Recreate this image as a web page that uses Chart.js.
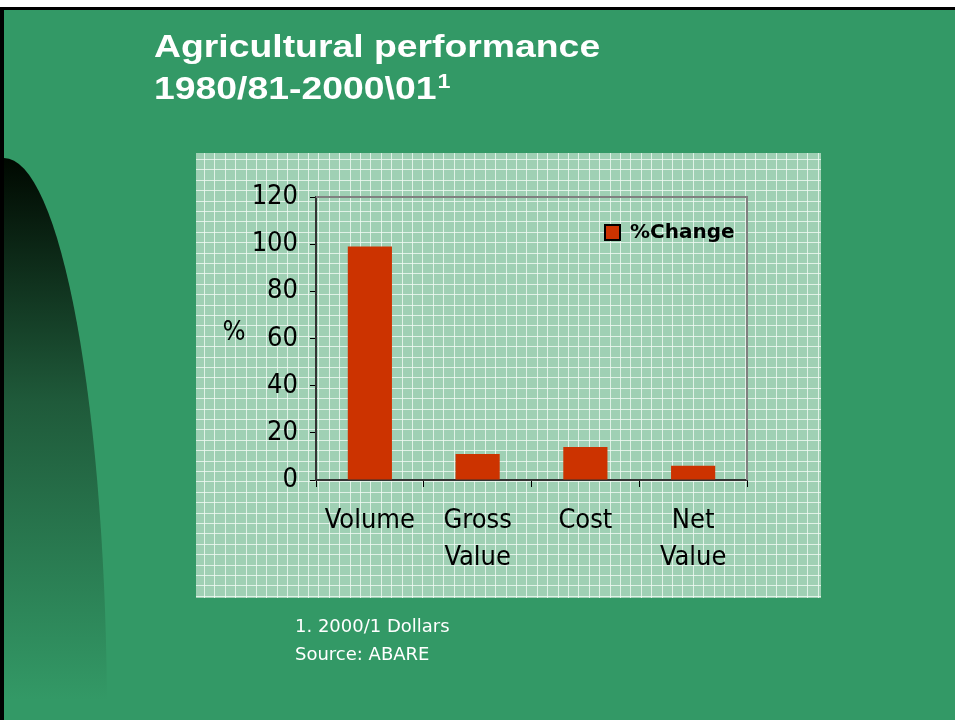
<!DOCTYPE html>
<html lang="en">
<head>
  <meta charset="UTF-8">
  <title>Agricultural performance</title>
  <script src="https://cdn.jsdelivr.net/npm/chart.js"></script>
  <style>
    html, body { margin: 0; padding: 0; background: #ffffff; }
    #wrap { width: 955px; height: 720px; position: relative; }
  </style>
</head>
<body>
  <div id="wrap">
    <canvas id="myChart" width="955" height="720"></canvas>
  </div>

  <script>
    // Chart data
    const categories = [['Volume'], ['Gross', 'Value'], ['Cost'], ['Net', 'Value']];
    const seriesLabel = '%Change';
    const changeValues = [99, 11, 14, 6];
    const yTicks = [0, 20, 40, 60, 80, 100, 120];

    const titleLines = ['Agricultural performance', '1980/81-2000\\01'];
    const footnotes = ['1. 2000/1 Dollars', 'Source: ABARE'];

    const slideGreen = '#339966';
    const barColor = '#cc3300';
    const tickFont = '"DejaVu Sans Condensed", "DejaVu Sans", sans-serif';

    // panel behind the chart (light green with white grid)
    const panel = { x: 196, y: 153, w: 625, h: 445 };

    const slidePlugin = {
      id: 'slide',
      beforeDraw(chart) {
        const c = chart.ctx;
        c.save();
        // slide background
        c.fillStyle = '#ffffff';
        c.fillRect(0, 0, 955, 720);
        c.fillStyle = slideGreen;
        c.fillRect(0, 8, 955, 712);
        c.fillStyle = '#000000';
        c.fillRect(0, 7, 955, 3);
        c.fillRect(0, 7, 4, 713);

        // dark curved shape on the left
        const grad = c.createLinearGradient(0, 158, 0, 700);
        grad.addColorStop(0, '#000800');
        grad.addColorStop(0.45, '#1f5a3a');
        grad.addColorStop(1, '#339966');
        c.fillStyle = grad;
        c.beginPath();
        c.moveTo(4, 720);
        c.ellipse(4, 720, 103, 562, 0, -Math.PI / 2, 0);
        c.lineTo(4, 720);
        c.closePath();
        c.fill();

        // title (slide text is a little stretched sideways)
        c.fillStyle = '#ffffff';
        c.textBaseline = 'alphabetic';
        c.textAlign = 'left';
        c.save();
        c.translate(154, 0);
        c.scale(1.167, 1);
        c.font = 'bold 32px "Liberation Sans", Arial, sans-serif';
        c.fillText(titleLines[0], 0, 57);
        c.fillText(titleLines[1], 0, 99);
        const w2 = c.measureText(titleLines[1]).width;
        c.font = 'bold 20px "Liberation Sans", Arial, sans-serif';
        c.fillText('1', w2 + 1, 88);
        c.restore();

        // footnotes
        c.font = '18px "DejaVu Sans", sans-serif';
        c.fillText(footnotes[0], 295, 632);
        c.fillText(footnotes[1], 295, 660);

        // chart panel
        c.fillStyle = '#9fd0b4';
        c.fillRect(panel.x, panel.y, panel.w, panel.h);
        c.strokeStyle = 'rgba(240,250,244,0.8)';
        c.lineWidth = 1;
        c.beginPath();
        for (let x = panel.x + 8; x < panel.x + panel.w; x += 10.4) {
          const px = Math.round(x) + 0.5;
          c.moveTo(px, panel.y);
          c.lineTo(px, panel.y + panel.h);
        }
        for (let y = panel.y + 6; y < panel.y + panel.h; y += 10.4) {
          const py = Math.round(y) + 0.5;
          c.moveTo(panel.x, py);
          c.lineTo(panel.x + panel.w, py);
        }
        c.stroke();
        c.restore();
      },
      afterDraw(chart) {
        const c = chart.ctx;
        const a = chart.chartArea;
        c.save();
        // top and right frame of the plot area
        c.strokeStyle = '#808080';
        c.lineWidth = 2;
        c.beginPath();
        c.moveTo(a.left, a.top);
        c.lineTo(a.right, a.top);
        c.lineTo(a.right, a.bottom);
        c.stroke();

        // y axis title, not rotated
        c.fillStyle = '#000000';
        c.font = '27px ' + tickFont;
        c.textAlign = 'center';
        c.textBaseline = 'alphabetic';
        c.fillText('%', 234, 340);

        // legend
        c.fillStyle = barColor;
        c.fillRect(604, 224, 17, 17);
        c.strokeStyle = '#000000';
        c.lineWidth = 2;
        c.strokeRect(605, 225, 15, 15);
        c.fillStyle = '#000000';
        c.font = 'bold 20px "DejaVu Sans", sans-serif';
        c.textAlign = 'left';
        c.fillText(chart.data.datasets[0].label, 630, 238);
        c.restore();
      }
    };

    const ctx = document.getElementById('myChart').getContext('2d');

    const myChart = new Chart(ctx, {
      type: 'bar',
      data: {
        labels: categories,
        datasets: [{
          label: seriesLabel,
          data: changeValues,
          backgroundColor: barColor,
          borderWidth: 0,
          categoryPercentage: 1,
          barPercentage: 0.41
        }]
      },
      options: {
        responsive: false,
        animation: false,
        layout: {
          padding: { left: 196, top: 197, right: 208, bottom: 122 }
        },
        plugins: {
          legend: { display: false },
          tooltip: { enabled: false }
        },
        scales: {
          x: {
            grid: {
              display: true,
              drawOnChartArea: false,
              drawTicks: true,
              tickLength: 7,
              color: '#000000',
              lineWidth: 1
            },
            border: { display: true, color: '#333333', width: 2 },
            ticks: {
              color: '#000000',
              padding: 15,
              maxRotation: 0,
              font: { family: tickFont, size: 27, lineHeight: 1.37 }
            },
            afterFit(scale) { scale.height = 118; }
          },
          y: {
            min: 0,
            max: 120,
            afterBuildTicks(scale) {
              scale.ticks = yTicks.map(v => ({ value: v }));
            },
            grid: {
              display: true,
              drawOnChartArea: false,
              drawTicks: true,
              tickLength: 6,
              color: '#000000',
              lineWidth: 1
            },
            border: { display: true, color: '#333333', width: 2 },
            ticks: {
              color: '#000000',
              padding: 12,
              font: { family: tickFont, size: 27, lineHeight: 1.2 }
            },
            afterFit(scale) { scale.width = 120; }
          }
        }
      },
      plugins: [slidePlugin]
    });
  </script>
</body>
</html>
